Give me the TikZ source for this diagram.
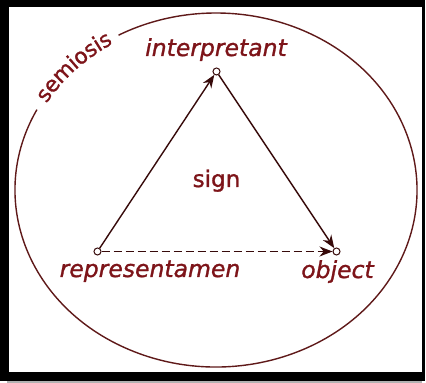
\documentclass[tikz,border=0pt]{standalone}
\usepackage{fontspec}
\setmainfont{DejaVu Sans}
\newfontfamily\lblfont[FakeBold=1.2]{DejaVu Sans}
\usetikzlibrary{arrows.meta,decorations.text}
\definecolor{txt}{RGB}{125,20,25}
\definecolor{ell}{RGB}{95,25,25}
\definecolor{arr}{RGB}{55,10,10}
\begin{document}
\begin{tikzpicture}[x=1pt,y=1pt,
  pt/.style={circle,draw=arr,fill=white,line width=1pt,inner sep=0pt,minimum size=7pt},
  lbl/.style={text=txt,font=\lblfont\fontsize{23.5}{24}\selectfont\itshape,inner sep=0pt,anchor=base},
  conn/.style={draw=arr,line width=1.4pt,-{Stealth[length=13pt,width=10pt]}}]
\useasboundingbox (0,0) rectangle (426,383);
\fill[black] (0,2) rectangle (425,383);
\fill[gray!60] (7,0) rectangle (422,2);
\fill[white] (9,11) rectangle (422,376);
\draw[ell,line width=1.4pt] (216,193) ++(153:201 and 177) arc[start angle=153,end angle=479,x radius=201,y radius=177];
\path[decorate,decoration={text along path,text align=center,raise=-5pt,
  text={|\lblfont\fontsize{21.5}{22}\selectfont\color{txt}|semiosis}}]
  (216,193) ++(160:201 and 177) arc[start angle=160,end angle=112,x radius=201,y radius=177];
\node[pt] (I) at (216.5,311.5) {};
\node[pt] (R) at (97.5,131.5) {};
\node[pt] (O) at (336.5,131.5) {};
\node[lbl] (Il) at (216,327) {interpretant};
\node[lbl] (Rl) at (150,106) {representamen};
\node[lbl] (Ol) at (337.5,105) {object};
\node[text=txt,font=\lblfont\fontsize{23}{24}\selectfont,anchor=base,inner sep=0pt] (S) at (216.5,196) {sign};
\draw[conn] (R) -- (I);
\draw[conn] (I) -- (O);
\draw[conn,dash pattern=on 8pt off 4pt] (R) -- (O);
\end{tikzpicture}
\end{document}
